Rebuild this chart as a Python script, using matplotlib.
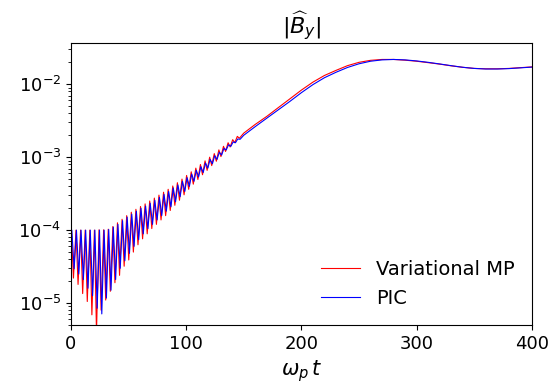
import matplotlib
matplotlib.use("Agg")
import matplotlib.pyplot as plt

# PIC (blue)
pic_t = [0, 0.8, 2.8, 4.8, 6.8, 8.8, 10.8, 12.8, 14.8, 16.8, 18.8, 20.8, 22.8, 24.8, 26.8,
         28.8, 30.8, 32.8, 34.8, 36.8, 38.8, 40.8, 42.8, 44.8, 46.8, 48.8, 50.8, 52.8, 54.8,
         56.8, 58.8, 60.8, 62.8, 64.8, 66.8, 68.8, 70.8, 72.8, 74.8, 76.8, 78.8, 80.8, 82.8,
         84.8, 86.8, 88.8, 90.8, 92.8, 94.8, 96.8, 98.8, 100.8, 102.8, 104.8, 106.8, 108.8,
         110.8, 112.8, 114.8, 116.8, 118.8, 120.8, 122.8, 124.8, 126.8, 128.8, 130.8, 132.8,
         134.8, 136.8, 138.8, 140.8, 142.8, 144.8, 146.8,
         150, 160, 170, 180, 190, 200, 210, 220, 230, 240, 250, 260, 270, 280, 290, 300,
         310, 320, 330, 340, 350, 360, 370, 380, 390, 400]
pic_b = [5.0e-5, 1.0e-4, 2.95e-5, 1.0e-4, 2.5e-5, 1.0e-4, 2.1e-5, 1.0e-4, 1.6e-5, 1.0e-4,
         1.26e-5, 1.0e-4, 8.5e-6, 1.0e-4, 7.1e-6, 1.0e-4, 1.17e-5, 1.02e-4, 1.5e-5, 1.10e-4,
         2.1e-5, 1.20e-4, 3.0e-5, 1.35e-4, 3.8e-5, 1.51e-4, 4.8e-5, 1.66e-4, 6.0e-5, 1.82e-4,
         7.4e-5, 2.00e-4, 8.9e-5, 2.14e-4, 1.05e-4, 2.34e-4, 1.20e-4, 2.57e-4, 1.38e-4, 2.82e-4,
         1.58e-4, 3.09e-4, 1.82e-4, 3.39e-4, 2.09e-4, 3.80e-4, 2.45e-4, 4.17e-4, 2.88e-4,
         4.68e-4, 3.39e-4, 5.25e-4, 3.98e-4, 5.89e-4, 4.68e-4, 6.61e-4, 5.37e-4, 7.41e-4,
         6.17e-4, 8.32e-4, 7.08e-4, 9.33e-4, 8.13e-4, 1.05e-3, 9.33e-4, 1.17e-3, 1.07e-3,
         1.32e-3, 1.26e-3, 1.48e-3, 1.41e-3, 1.62e-3, 1.58e-3, 1.78e-3, 1.76e-3,
         2.00e-3, 2.63e-3, 3.43e-3, 4.47e-3, 5.82e-3, 7.67e-3, 9.89e-3, 1.23e-2, 1.46e-2,
         1.70e-2, 1.91e-2, 2.07e-2, 2.16e-2, 2.19e-2, 2.16e-2, 2.09e-2, 2.00e-2, 1.90e-2,
         1.80e-2, 1.71e-2, 1.65e-2, 1.62e-2, 1.62e-2, 1.64e-2, 1.68e-2, 1.72e-2]

# Variational MP (red)
mp_t = [0, 0.4, 2.2, 4.4, 6.2, 8.4, 10.2, 12.4, 14.2, 16.4, 18.2, 20.4, 22.2, 24.4, 26.2,
        28.4, 30.2, 32.4, 34.2, 36.4, 38.2, 40.4, 42.2, 44.4, 46.2, 48.4, 50.2, 52.4, 54.2,
        56.4, 58.2, 60.4, 62.2, 64.4, 66.2, 68.4, 70.2, 72.4, 74.2, 76.4, 78.2, 80.4, 82.2,
        84.4, 86.2, 88.4, 90.2, 92.4, 94.2, 96.4, 98.2, 100.4, 102.2, 104.4, 106.2, 108.4,
        110.2, 112.4, 114.2, 116.4, 118.2, 120.4, 122.2, 124.4, 126.2, 128.4, 130.2, 132.4,
        134.2, 136.4, 138.2, 140.4, 142.2, 144.4, 146.2,
        150, 160, 170, 180, 190, 200, 210, 220, 230, 240, 250, 260, 270, 280, 290, 300,
        310, 320, 330, 340, 350, 360, 370, 380, 390, 400]
mp_b = [4.0e-5, 1.0e-4, 2.2e-5, 1.0e-4, 1.8e-5, 1.0e-4, 1.35e-5, 1.0e-4, 1.05e-5, 1.0e-4,
        6.9e-6, 1.0e-4, 4.0e-6, 1.01e-4, 8.0e-6, 1.01e-4, 1.1e-5, 1.03e-4, 1.45e-5, 1.12e-4,
        1.9e-5, 1.26e-4, 2.4e-5, 1.41e-4, 3.2e-5, 1.58e-4, 3.9e-5, 1.76e-4, 5.0e-5, 1.93e-4,
        6.3e-5, 2.11e-4, 7.6e-5, 2.29e-4, 8.9e-5, 2.51e-4, 1.05e-4, 2.75e-4, 1.20e-4, 3.02e-4,
        1.38e-4, 3.31e-4, 1.58e-4, 3.63e-4, 1.86e-4, 4.03e-4, 2.19e-4, 4.47e-4, 2.57e-4,
        5.01e-4, 3.05e-4, 5.62e-4, 3.63e-4, 6.31e-4, 4.27e-4, 7.08e-4, 4.95e-4, 7.94e-4,
        5.75e-4, 8.91e-4, 6.60e-4, 1.00e-3, 7.67e-4, 1.12e-3, 8.81e-4, 1.26e-3, 1.02e-3,
        1.41e-3, 1.20e-3, 1.58e-3, 1.38e-3, 1.74e-3, 1.58e-3, 1.93e-3, 1.82e-3,
        2.14e-3, 2.82e-3, 3.63e-3, 4.79e-3, 6.31e-3, 8.32e-3, 1.07e-2, 1.32e-2, 1.55e-2,
        1.80e-2, 2.00e-2, 2.13e-2, 2.19e-2, 2.19e-2, 2.14e-2, 2.07e-2, 1.98e-2, 1.89e-2,
        1.79e-2, 1.71e-2, 1.65e-2, 1.63e-2, 1.63e-2, 1.65e-2, 1.69e-2, 1.73e-2]

fig = plt.figure(figsize=(5.54, 3.86), dpi=100)
ax = fig.add_axes([0.128, 0.158, 0.832, 0.731])

ax.plot(mp_t, mp_b, color="r", lw=0.8, label="Variational MP")
ax.plot(pic_t, pic_b, color="b", lw=0.8, label="PIC")

ax.set_yscale("log")
ax.set_xlim(0, 400)
ax.set_ylim(5e-6, 0.037)
ax.set_xticks([0, 100, 200, 300, 400])
ax.tick_params(labelsize=13)
ax.set_xlabel(r"$\omega_p\, t$", fontsize=15)
ax.set_title(r"$|\widehat{B}_y|$", fontsize=16)
ax.legend(loc="lower right", frameon=False, fontsize=14)

fig.savefig("out.png", dpi=100)
